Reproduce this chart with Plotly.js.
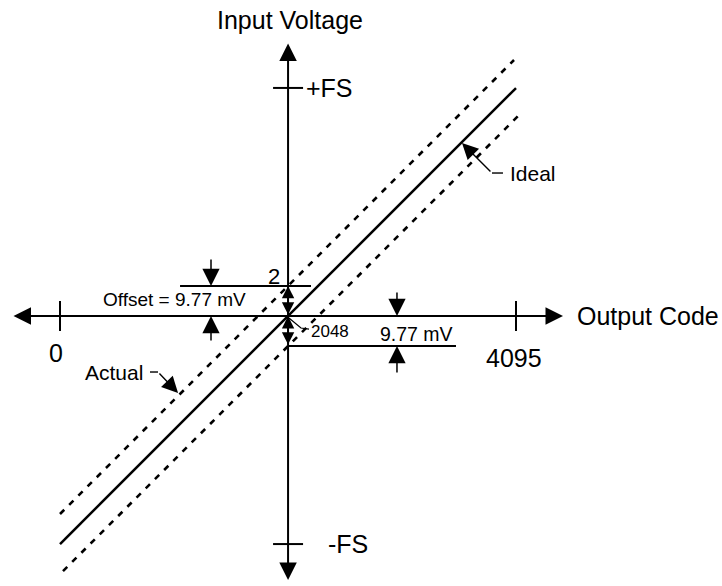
<!DOCTYPE html>
<html><head><meta charset="utf-8">
<script src="https://cdn.plot.ly/plotly-3.0.1.min.js"></script>
<style>html,body{margin:0;padding:0;background:#fff;}#chart{width:722px;height:586px;}</style>
</head><body><div id="chart"></div>
<script>
// Diagram units: x = output code, y = input voltage in code-equivalent units (±FS = ±2048)
const codeTicks = [0, 4095];
const codeTickLabels = ['0', '4095'];
const fsLevels = [2048, -2048];
const fsLabels = ['+FS', '-FS'];
const midCode = 2048;
const offsetUnits = 270;            // drawn height of the 9.77 mV offset (exaggerated)
const idealCode = [0, 4095];
const idealVolt = [-2048, 2047];
const actualCode = [0, 4077];
const actualVolt = [-1778, 2299];
const actual2Code = [27, 4122];
const actual2Volt = [-2291, 1804];
const xAxisEnds = [-431, 4517];
const yAxisEnds = [2461, -2371];
const upperLevelSpan = [1078, 2254];
const lowerLevelSpan = [2048, 3556];
const dimCodes = [1356, 3026];      // left / right dimension arrows
const dimReach = [521, -521];
const labelOffset = 'Offset = 9.77 mV';
const labelLsb = '9.77 mV';
const labelMid = '2048';
const labelTwo = '2';
const labelActual = 'Actual';
const labelIdeal = 'Ideal';
const titleX = 'Output Code';
const titleY = 'Input Voltage';

const FONT = '"Liberation Sans", Arial, Helvetica, sans-serif';
const K = 8.98; // code units per pixel
const BLACK = '#000';

function seg(xs, ys, w, dash) {
  return {x: xs, y: ys, mode: 'lines', type: 'scatter', hoverinfo: 'skip',
          line: {color: BLACK, width: w, dash: dash || 'solid'}, showlegend: false};
}

const traces = [];
traces.push(seg(idealCode, idealVolt, 2.5));
traces.push(seg(actualCode, actualVolt, 2.6, '6px,7px'));
traces.push(seg(actual2Code, actual2Volt, 2.6, '6px,7px'));

// tick marks
const tx = [], ty = [];
codeTicks.forEach(c => { tx.push(c, c, null); ty.push(-15 * K, 15 * K, null); });
fsLevels.forEach(v => { tx.push(midCode - 15 * K, midCode + 15 * K, null); ty.push(v, v, null); });
traces.push(seg(tx, ty, 2));

// offset level lines
traces.push(seg(upperLevelSpan, [offsetUnits, offsetUnits], 2));
traces.push(seg(lowerLevelSpan, [-offsetUnits, -offsetUnits], 2));

// leader lines
traces.push(seg([3879, 3978], [1284, 1284], 1.4));
traces.push(seg([808, 880], [-503, -503], 1.4));
traces.push(seg([2056, 2164, 2236], [-18, -108, -117], 1.2));

function arrow(x, y, ax, ay, w, size, both) {
  const a = {x, y, ax, ay, xref: 'x', yref: 'y', axref: 'x', ayref: 'y', text: '',
    showarrow: true, arrowhead: 2, arrowsize: size, arrowwidth: w, arrowcolor: BLACK, standoff: 0};
  if (both) { a.arrowside = 'end+start'; a.startarrowhead = 2; a.startarrowsize = size; a.startstandoff = 0; }
  return a;
}
function txt(text, x, y, size, xanchor, xshift, yshift) {
  return {x, y, xref: 'x', yref: 'y', text, showarrow: false, xanchor: xanchor || 'center', yanchor: 'middle',
    xshift: xshift || 0, yshift: yshift || 0, font: {family: FONT, size, color: BLACK}};
}

const ann = [];
// axes with arrowheads
ann.push(arrow(xAxisEnds[1], 0, xAxisEnds[0], 0, 2, 1.75, true));
ann.push(arrow(midCode, yAxisEnds[1], midCode, yAxisEnds[0], 2, 1.75, true));
// center double arrows
ann.push(arrow(midCode, offsetUnits, midCode, 0, 1.5, 1.65, true));
ann.push(arrow(midCode, 0, midCode, -offsetUnits, 1.5, 1.65, true));
// dimension arrows
ann.push(arrow(dimCodes[0], offsetUnits, dimCodes[0], dimReach[0], 1.5, 2.3));
ann.push(arrow(dimCodes[0], 0, dimCodes[0], -offsetUnits + 37, 1.5, 2.3));
ann.push(arrow(dimCodes[1], 0, dimCodes[1], offsetUnits - 46, 1.5, 2.3));
ann.push(arrow(dimCodes[1], -offsetUnits, dimCodes[1], dimReach[1], 1.5, 2.3));
// leader arrows
ann.push(arrow(3610, 1554, 3879, 1284, 1.4, 2.3));
ann.push(arrow(1060, -691, 880, -503, 1.4, 2.3));

// texts
ann.push(txt(titleY, midCode, 2658, 25, 'center', 2));
ann.push(txt(titleX, xAxisEnds[1], 0, 25, 'left', 12));
ann.push(txt(fsLabels[0], midCode, fsLevels[0], 25, 'left', 16));
ann.push(txt(fsLabels[1], midCode, fsLevels[1], 25, 'left', 38));
codeTicks.forEach((c, i) => ann.push(txt(codeTickLabels[i], c, 0, 25, 'center', i === 0 ? -4 : -2, i === 0 ? -37 : -42)));
ann.push(txt(labelOffset, 1688, 144, 19, 'right'));
ann.push(txt(labelTwo, 1922, 355, 22, 'center'));
ann.push(txt(labelMid, 2236, -135, 17, 'left'));
ann.push(txt(labelLsb, 2855, -162, 19.5, 'left'));
ann.push(txt(labelActual, 808, -503, 21, 'right', -5));
ann.push(txt(labelIdeal, 3978, 1284, 21, 'left', 5));

const layout = {
  width: 722, height: 586, margin: {l: 0, r: 0, t: 0, b: 0},
  paper_bgcolor: '#fff', plot_bgcolor: '#fff', showlegend: false,
  xaxis: {range: [-60 * K, 662 * K], visible: false, fixedrange: true},
  yaxis: {range: [-270 * K, 316 * K], visible: false, fixedrange: true},
  annotations: ann
};
Plotly.newPlot('chart', traces, layout, {displayModeBar: false, staticPlot: true});
</script></body></html>
